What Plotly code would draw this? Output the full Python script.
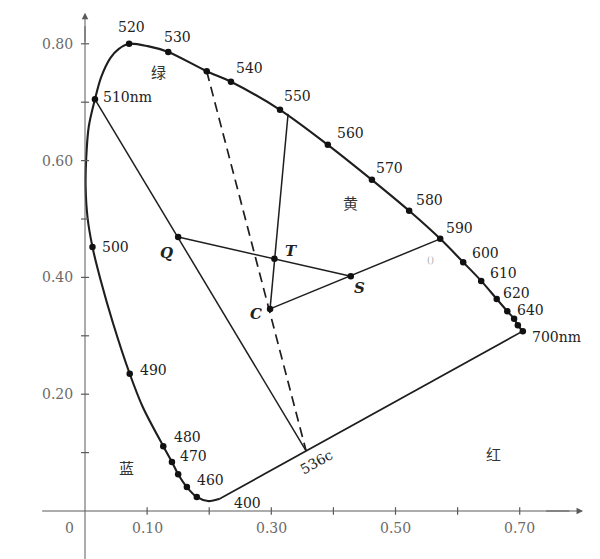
import plotly.graph_objects as go

# ---------------- data (CIE-style chromaticity diagram) ----------------
# spectral locus, from 400 nm (bottom) up the blue/green side and down to 700 nm
locus_nm = [400, None, 450, 460, 465, 470, 480, None, 490, None, None, 500, None, None, None, None,
            510, None, None, None, 520, None, 530, 536, 540, 550, 560, 570, 580, 590, 600, 610,
            620, 630, 640, 650, 700]
locus_x = [0.217, 0.198, 0.180, 0.164, 0.150, 0.140, 0.126, 0.093, 0.072, 0.045, 0.025, 0.012,
           0.004, 0.001, 0.002, 0.006, 0.016, 0.026, 0.041, 0.054, 0.071, 0.101, 0.134, 0.196,
           0.235, 0.314, 0.391, 0.462, 0.522, 0.572, 0.609, 0.638, 0.663, 0.680, 0.691, 0.697,
           0.705]
locus_y = [0.021, 0.017, 0.024, 0.041, 0.063, 0.084, 0.111, 0.178, 0.235, 0.322, 0.396, 0.452,
           0.503, 0.555, 0.606, 0.658, 0.705, 0.743, 0.776, 0.791, 0.800, 0.796, 0.786, 0.753,
           0.735, 0.687, 0.627, 0.567, 0.514, 0.466, 0.426, 0.394, 0.363, 0.342, 0.329, 0.318,
           0.308]

# wavelengths marked with a dot on the locus
dot_nm = [450, 460, 465, 470, 480, 490, 500, 510, 520, 530, 536, 540, 550, 560, 570, 580, 590,
          600, 610, 620, 630, 640, 650, 700]

# named construction points
pt_names = ["Q", "T", "C", "S"]
pt_x = [0.150, 0.305, 0.298, 0.428]
pt_y = [0.469, 0.432, 0.346, 0.402]

c536_x, c536_y = 0.356, 0.103      # complementary 536c on the purple line
tend_x, tend_y = 0.327, 0.680      # where line C-T meets the locus

# axis ticks and labels
x_ticks = [0.1, 0.2, 0.3, 0.4, 0.5, 0.6, 0.7]
y_ticks = [0.1, 0.2, 0.3, 0.4, 0.5, 0.6, 0.7, 0.8]
x_tick_labels = {0.1: "0.10", 0.3: "0.30", 0.5: "0.50", 0.7: "0.70"}
y_tick_labels = {0.2: "0.20", 0.4: "0.40", 0.6: "0.60", 0.8: "0.80"}

# colour-region names
region_text = ["绿", "黄", "蓝", "红"]
region_x = [0.119, 0.427, 0.066, 0.657]
region_y = [0.752, 0.529, 0.074, 0.099]

# ---------------- helpers ----------------
pos = {}
for nm, x, y in zip(locus_nm, locus_x, locus_y):
    if nm is not None:
        pos[str(nm)] = (x, y)
for n, x, y in zip(pt_names, pt_x, pt_y):
    pos[n] = (x, y)
pos["536c"] = (c536_x, c536_y)
pos["tend"] = (tend_x, tend_y)

INK = "#1e1e1e"
AXIS = "#5a5a5a"
SERIF = "DejaVu Serif"

fig = go.Figure()

# spectral locus (smooth curve)
fig.add_trace(go.Scatter(x=locus_x, y=locus_y, mode="lines",
                         line=dict(color=INK, width=2.1, shape="spline", smoothing=0.9),
                         hoverinfo="skip", showlegend=False))
# purple line 400 -> 700
fig.add_trace(go.Scatter(x=[locus_x[0], locus_x[-1]], y=[locus_y[0], locus_y[-1]], mode="lines",
                         line=dict(color=INK, width=1.7), hoverinfo="skip", showlegend=False))

# construction lines
solid_segments = [("510", "536c"), ("Q", "S"), ("tend", "C"), ("C", "590")]
for a, b in solid_segments:
    fig.add_trace(go.Scatter(x=[pos[a][0], pos[b][0]], y=[pos[a][1], pos[b][1]], mode="lines",
                             line=dict(color=INK, width=1.5), hoverinfo="skip", showlegend=False))
fig.add_trace(go.Scatter(x=[pos["536"][0], pos["536c"][0]], y=[pos["536"][1], pos["536c"][1]],
                         mode="lines", line=dict(color=INK, width=1.7, dash="10px,6px"),
                         hoverinfo="skip", showlegend=False))

# dots
fig.add_trace(go.Scatter(x=[pos[str(n)][0] for n in dot_nm] + pt_x,
                         y=[pos[str(n)][1] for n in dot_nm] + pt_y,
                         mode="markers", marker=dict(color="#111", size=6.5),
                         hoverinfo="skip", showlegend=False))

# axes drawn in data space
shapes = [
    dict(type="line", x0=-0.069, x1=0.78, y0=0, y1=0, line=dict(color=AXIS, width=1)),
    dict(type="line", x0=0, x1=0, y0=-0.09, y1=0.83, line=dict(color=AXIS, width=1)),
]
for t in x_ticks:
    shapes.append(dict(type="line", x0=t, x1=t, y0=-0.0065, y1=0.0065, line=dict(color=AXIS, width=1.2)))
for t in y_ticks:
    shapes.append(dict(type="line", x0=-0.0065, x1=0.0065, y0=t, y1=t, line=dict(color=AXIS, width=1.2)))

ann = []
# axis arrows
ann.append(dict(x=0.802, y=0, ax=0.74, ay=0, xref="x", yref="y", axref="x", ayref="y", text="",
                showarrow=True, arrowhead=2, arrowsize=1.3, arrowwidth=1, arrowcolor=AXIS, standoff=0))
ann.append(dict(x=0, y=0.853, ax=0, ay=0.80, xref="x", yref="y", axref="x", ayref="y", text="",
                showarrow=True, arrowhead=2, arrowsize=1.3, arrowwidth=1, arrowcolor=AXIS, standoff=0))

tick_font = dict(family=SERIF, size=14, color="#6a6a6a")
for t, s in x_tick_labels.items():
    ann.append(dict(x=t, y=0, yshift=-17, text=s, showarrow=False, xanchor="center",
                    yanchor="middle", font=tick_font))
ann.append(dict(x=0, y=0, xshift=-16, yshift=-17, text="0", showarrow=False, xanchor="center",
                yanchor="middle", font=tick_font))
for t, s in y_tick_labels.items():
    ann.append(dict(x=0, y=t, xshift=-10, text=s, showarrow=False, xanchor="right",
                    yanchor="middle", font=tick_font))

# wavelength labels: (text, anchor point, xanchor, xshift, yshift)
lab_font = dict(family=SERIF, size=14, color="#222")
wl_labels = [
    ("520", "520", "center", 2, 17), ("530", "530", "center", 9, 15),
    ("540", "540", "center", 19, 14), ("550", "550", "center", 17, 14),
    ("560", "560", "center", 23, 12), ("570", "570", "center", 18, 12),
    ("580", "580", "center", 20, 11), ("590", "590", "center", 19, 11),
    ("600", "600", "center", 22, 9), ("610", "610", "center", 22, 8),
    ("620", "620", "center", 20, 6), ("640", "640", "center", 16, 9),
    ("700nm", "700", "left", 7, -6), ("510nm", "510", "left", 6, 2),
    ("500", "500", "left", 8, 0), ("490", "490", "left", 8, 4),
    ("480", "480", "left", 9, 9), ("470", "470", "left", 6, 6),
    ("460", "460", "left", 8, 7), ("400", "400", "center", 28, -4),
]
for s, key, xa, dx, dy in wl_labels:
    ann.append(dict(x=pos[key][0], y=pos[key][1], xshift=dx, yshift=dy, text=s, showarrow=False,
                    xanchor=xa, yanchor="middle", font=lab_font))
ann.append(dict(x=c536_x, y=c536_y, xshift=10, yshift=-11, text="536c", showarrow=False,
                textangle=-29, xanchor="center", yanchor="middle", font=lab_font))

# point letters
pt_shift = {"Q": (-12, -16), "T": (17, 8), "C": (-14, -5), "S": (9, -12)}
for n in pt_names:
    dx, dy = pt_shift[n]
    ann.append(dict(x=pos[n][0], y=pos[n][1], xshift=dx, yshift=dy, text="<b><i>%s</i></b>" % n,
                    showarrow=False, xanchor="center", yanchor="middle",
                    font=dict(family=SERIF, size=15, color="#222")))

# region names
for s, x, y in zip(region_text, region_x, region_y):
    ann.append(dict(x=x, y=y, text=s, showarrow=False, xanchor="center", yanchor="middle",
                    font=dict(family="Noto Sans CJK SC", size=15, color="#333")))
# faint mark near 590
ann.append(dict(x=0.556, y=0.430, text="()", showarrow=False, xanchor="center", yanchor="middle",
                font=dict(family=SERIF, size=9, color="#aaa")))

fig.update_layout(
    width=600, height=559, margin=dict(l=0, r=0, t=0, b=0),
    paper_bgcolor="white", plot_bgcolor="white",
    xaxis=dict(range=[-0.1369, 0.8293], visible=False, fixedrange=True),
    yaxis=dict(range=[-0.0822, 0.875], visible=False, fixedrange=True),
    shapes=shapes, annotations=ann, showlegend=False,
)

fig.write_html("out.html", config={"displayModeBar": False},
               post_script="document.body.style.margin='0px';")
